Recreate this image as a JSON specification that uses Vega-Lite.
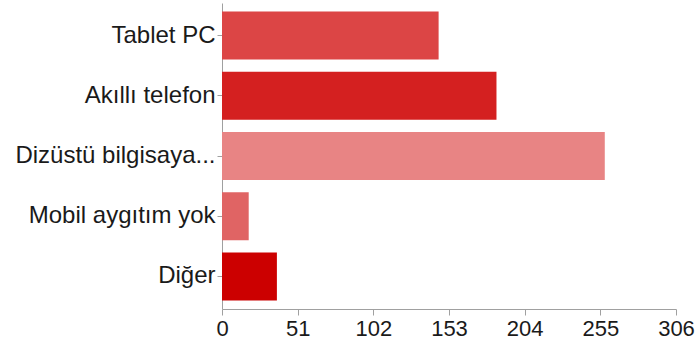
{
  "$schema": "https://vega.github.io/schema/vega-lite/v6.json",
  "autosize": "none",
  "width": 454,
  "height": 306,
  "padding": {"left": 222, "top": 3, "right": 20, "bottom": 38},
  "background": "white",
  "config": {"view": {"stroke": null}, "font": "Liberation Sans"},
  "data": {"values": [
    {"category": "Tablet PC", "count": 146},
    {"category": "Akıllı telefon", "count": 185},
    {"category": "Dizüstü bilgisaya...", "count": 258},
    {"category": "Mobil aygıtım yok", "count": 18},
    {"category": "Diğer", "count": 37}
  ]},
  "mark": {"type": "bar"},
  "encoding": {
    "y": {
      "field": "category", "type": "nominal", "sort": null,
      "scale": {"paddingInner": 0.2, "paddingOuter": 0.14},
      "axis": {
        "title": null, "domain": true, "domainColor": "#a0a0a0", "domainWidth": 1,
        "tickColor": "#a0a0a0", "tickSize": 5, "labelPadding": 2,
        "labelFontSize": 24, "labelColor": "#1a1a1a", "labelFont": "Liberation Sans",
        "labelLimit": 300
      }
    },
    "x": {
      "field": "count", "type": "quantitative",
      "scale": {"domain": [0, 306], "nice": false},
      "axis": {
        "title": null, "grid": false, "values": [0, 51, 102, 153, 204, 255, 306],
        "domainColor": "#a0a0a0", "tickColor": "#a0a0a0", "tickSize": 6,
        "labelFontSize": 22, "labelColor": "#1a1a1a", "labelFont": "Liberation Sans",
        "labelPadding": 3, "labelFlush": false
      }
    },
    "color": {
      "field": "category", "type": "nominal", "legend": null,
      "scale": {
        "domain": ["Tablet PC", "Akıllı telefon", "Dizüstü bilgisaya...", "Mobil aygıtım yok", "Diğer"],
        "range": ["#dc4545", "#d42020", "#e88484", "#e06464", "#cc0000"]
      }
    }
  }
}
